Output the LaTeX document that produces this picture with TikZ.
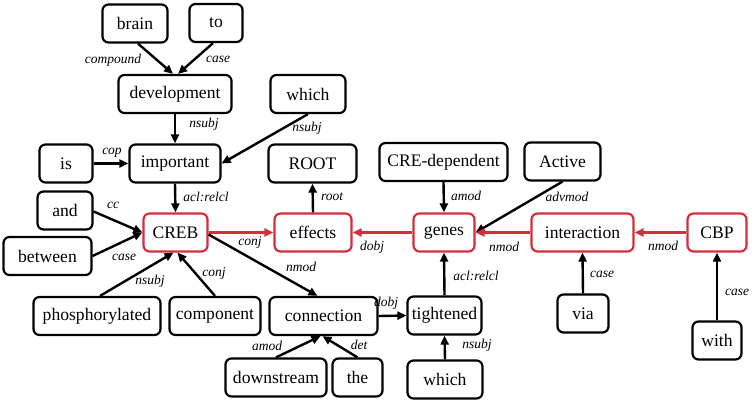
\documentclass[tikz,border=0pt]{standalone}
\usepackage{fontspec}
\setmainfont{Liberation Serif}
\usetikzlibrary{arrows.meta}
\definecolor{hred}{RGB}{214,45,60}
\tikzset{
  box/.style={draw, rounded corners=6pt, line width=2.2pt, minimum height=38pt, minimum width=#1, inner sep=0pt,
    font=\fontsize{17.6}{20}\selectfont},
  hbox/.style={box=#1, draw=hred},
  arr/.style={line width=2.4pt, -{Triangle[length=9pt,width=8pt]}},
  harr/.style={arr, draw=hred, color=hred},
  lbl/.style={font=\fontsize{13.5}{15}\selectfont\itshape, inner sep=0pt}
}
\begin{document}
\begin{tikzpicture}[x=1pt,y=-1pt]
\useasboundingbox (0,0) rectangle (755,403);
% nodes
\node[box=65pt] (brain) at (135,23.5) {brain};
\node[box=53pt] (to) at (216,23) {to};
\node[box=113pt] (development) at (175,94) {development};
\node[box=75pt] (which1) at (308,94) {which};
\node[box=53pt] (is) at (66,163.5) {is};
\node[box=91pt] (important) at (175,163.5) {important};
\node[box=88pt] (ROOT) at (312.5,163.5) {ROOT};
\node[box=55pt] (and) at (65,210.5) {and};
\node[box=88pt] (between) at (47.5,256) {between};
\node[hbox=64pt] (CREB) at (175.5,232.5) {CREB};
\node[hbox=77pt] (effects) at (313,232.5) {effects};
\node[box=127pt] (phos) at (97,316) {phosphorylated};
\node[box=91pt] (component) at (215,316) {component};
\node[box=108pt] (connection) at (323.5,316) {connection};
\node[box=101pt] (downstream) at (276,377.5) {downstream};
\node[box=50pt] (the) at (357.5,377.5) {the};
\node[box=128pt] (CREdep) at (443.5,162) {CRE-dependent};
\node[box=76pt] (Active) at (562.5,161.5) {Active};
\node[hbox=61pt] (genes) at (444,232.5) {genes};
\node[hbox=102pt] (interaction) at (582.5,232.5) {interaction};
\node[hbox=59pt] (CBP) at (717,232.5) {CBP};
\node[box=74pt] (tightened) at (444.5,315.5) {tightened};
\node[box=51pt] (via) at (583,313.5) {via};
\node[box=49pt] (with) at (717,340.5) {with};
\node[box=75pt] (which2) at (445,379.5) {which};
% edges
\draw[arr] ([xshift=3pt]brain.south) -- ([xshift=-2pt]development.north);
\draw[arr] ([xshift=-3pt]to.south) -- ([xshift=3pt]development.north);
\draw[arr] (development.south) -- (important.north);
\draw[arr] (which1.south) -- (important.east);
\draw[arr] (is.east) -- (important.west);
\draw[arr] (important.south) -- (CREB.north);
\draw[arr] (effects.north) -- (ROOT.south);
\draw[arr] ([yshift=-1pt]and.east) -- (CREB.west);
\draw[arr] (between.east) -- (CREB.west);
\draw[arr] ([xshift=3pt]phos.north) -- ([xshift=-2pt]CREB.south);
\draw[arr] (component.north) -- ([xshift=2pt]CREB.south);
\draw[harr] (CREB.east) -- (effects.west);
\draw[arr] ([yshift=-2pt]CREB.east) -- ([xshift=-6pt]connection.north);
\draw[harr] (genes.west) -- (effects.east);
\draw[arr] (CREdep.south) -- (genes.north);
\draw[arr] (Active.south) -- (genes.east);
\draw[harr] (interaction.west) -- (genes.east);
\draw[harr] (CBP.west) -- (interaction.east);
\draw[arr] (tightened.north) -- (genes.south);
\draw[arr] (via.north) -- (interaction.south);
\draw[arr] (with.north) -- (CBP.south);
\draw[arr] (connection.east) -- (tightened.west);
\draw[arr] (which2.north) -- (tightened.south);
\draw[arr] (downstream.north) -- ([xshift=-3pt]connection.south);
\draw[arr] (the.north) -- ([xshift=-1pt]connection.south);
% labels
\node[lbl] (l1) at (113,60) {compound};
\node[lbl] (l2) at (218,59) {case};
\node[lbl] (l3) at (204,124) {nsubj};
\node[lbl] (l4) at (307,128) {nsubj};
\node[lbl] (l5) at (112,153) {cop};
\node[lbl] (l6) at (206,197) {acl:relcl};
\node[lbl] (l7) at (332,197) {root};
\node[lbl] (l8) at (113,205) {cc};
\node[lbl] (l9) at (124,257) {case};
\node[lbl] (l10) at (150,281) {nsubj};
\node[lbl] (l11) at (214,273) {conj};
\node[lbl] (l12) at (250,242) {conj};
\node[lbl] (l13) at (301,267) {nmod};
\node[lbl] (l14) at (372,247) {dobj};
\node[lbl] (l15) at (466,196) {amod};
\node[lbl] (l16) at (567,197) {advmod};
\node[lbl] (l17) at (504,247) {nmod};
\node[lbl] (l18) at (663,246) {nmod};
\node[lbl] (l19) at (476,276) {acl:relcl};
\node[lbl] (l20) at (602,274) {case};
\node[lbl] (l21) at (737,292) {case};
\node[lbl] (l22) at (386,303) {dobj};
\node[lbl] (l23) at (477,345) {nsubj};
\node[lbl] (l24) at (267,346) {amod};
\node[lbl] (l25) at (359,345) {det};
\end{tikzpicture}
\end{document}
